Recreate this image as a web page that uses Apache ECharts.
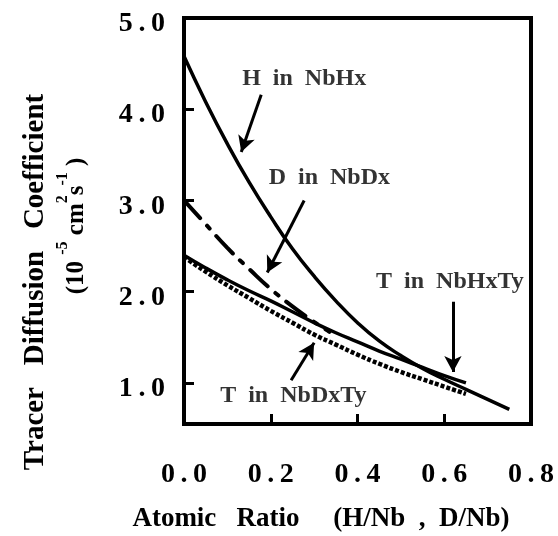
<!DOCTYPE html>
<html>
<head>
<meta charset="utf-8">
<script src="https://cdn.jsdelivr.net/npm/echarts@6/dist/echarts.min.js"></script>
<style>
  html, body { margin: 0; padding: 0; background: #fff; }
  #chart { width: 558px; height: 536px; }
</style>
</head>
<body>
<div id="chart"></div>
<script>
// H in NbHx (solid)
var hX = [0, 0.05, 0.1, 0.15, 0.2, 0.25, 0.3, 0.35, 0.4, 0.45, 0.5, 0.55, 0.6, 0.65, 0.7, 0.75];
var hY = [4.58, 4.08, 3.62, 3.2, 2.82, 2.47, 2.17, 1.9, 1.66, 1.46, 1.3, 1.16, 1.04, 0.93, 0.82, 0.71];
// D in NbDx (dash-dot)
var dX = [0, 0.05, 0.1, 0.15, 0.2, 0.25, 0.3, 0.335];
var dY = [3.0, 2.74, 2.48, 2.25, 2.03, 1.84, 1.67, 1.56];
// T in NbHxTy (solid)
var thX = [0, 0.05, 0.1, 0.15, 0.2, 0.25, 0.3, 0.35, 0.4, 0.45, 0.5, 0.55, 0.6, 0.65];
var thY = [2.4, 2.26, 2.13, 2.01, 1.9, 1.78, 1.66, 1.55, 1.45, 1.35, 1.26, 1.17, 1.08, 1.0];
// T in NbDxTy (dotted)
var tdX = [0, 0.05, 0.1, 0.15, 0.2, 0.25, 0.3, 0.35, 0.4, 0.45, 0.5, 0.55, 0.6, 0.65];
var tdY = [2.38, 2.22, 2.07, 1.93, 1.79, 1.66, 1.53, 1.42, 1.31, 1.21, 1.12, 1.04, 0.96, 0.88];

var xTicks = [0.2, 0.4, 0.6];
var xLabels = [0, 0.2, 0.4, 0.6, 0.8];
var yTicks = [1, 2, 3, 4];
var yLabels = [1, 2, 3, 4, 5];

// curve labels and arrows, in data units
var noteText = ["H  in  NbHx", "D  in  NbDx", "T  in  NbHxTy", "T  in  NbDxTy"];
var noteX = [0.277, 0.335, 0.613, 0.252];
var noteY = [4.33, 3.25, 2.11, 0.86];
var arrowFrom = [[0.178, 4.16], [0.277, 3.0], [0.62, 1.89], [0.247, 1.03]];
var arrowTo = [[0.132, 3.53], [0.192, 2.21], [0.62, 1.12], [0.30, 1.44]];

function pairs(xs, ys) {
  return xs.map(function (x, i) { return [x, ys[i]]; });
}

function spaced(v) {
  return v.toFixed(1).split("").join("\u2009");
}

var serif = '"Liberation Serif", "Times New Roman", serif';
var chart = echarts.init(document.getElementById("chart"));

var option = {
  animation: false,
  grid: {
    left: 184,
    right: 27,
    top: 18,
    bottom: 112,
    show: true,
    borderColor: "#000",
    borderWidth: 4
  },
  xAxis: {
    type: "value",
    min: 0,
    max: 0.8,
    axisLine: { show: false },
    splitLine: { show: false },
    axisTick: {
      show: true,
      inside: true,
      length: 10,
      customValues: xTicks,
      lineStyle: { color: "#000", width: 3 }
    },
    axisLabel: {
      customValues: xLabels,
      margin: 37,
      color: "#000",
      fontFamily: serif,
      fontWeight: "bold",
      fontSize: 28,
      formatter: spaced
    }
  },
  yAxis: {
    type: "value",
    min: 0.55,
    max: 5.0,
    axisLine: { show: false },
    splitLine: { show: false },
    axisTick: {
      show: true,
      inside: true,
      length: 10,
      customValues: yTicks,
      lineStyle: { color: "#000", width: 3 }
    },
    axisLabel: {
      customValues: yLabels,
      margin: 19,
      formatter: function (v) {
        return "{a|" + spaced(v) + "}";
      },
      rich: {
        a: {
          color: "#000",
          fontFamily: serif,
          fontWeight: "bold",
          fontSize: 28,
          padding: [12, 0, 0, 0]
        }
      }
    }
  },
  graphic: [
    {
      type: "text",
      x: 321,
      y: 519,
      style: {
        text: "Atomic   Ratio     (H/Nb  ,  D/Nb)",
        textAlign: "center",
        textVerticalAlign: "middle",
        font: "bold 27px " + serif,
        fill: "#000"
      }
    },
    {
      type: "text",
      x: 36,
      y: 282,
      rotation: Math.PI / 2,
      style: {
        text: "Tracer   Diffusion   Coefficient",
        textAlign: "center",
        textVerticalAlign: "middle",
        font: "bold 29px " + serif,
        fill: "#000"
      }
    },
    {
      type: "text",
      x: 72,
      y: 226,
      rotation: Math.PI / 2,
      style: {
        text: "{b|(10 }{s|-5}{b| cm}{s|2}{b|s}{s|-1}{b| )}",
        textAlign: "center",
        textVerticalAlign: "middle",
        fill: "#000",
        rich: {
          b: { font: "bold 25px " + serif, lineHeight: 34, verticalAlign: "bottom" },
          s: { font: "bold 16px " + serif, lineHeight: 34, verticalAlign: "top" }
        }
      }
    }
  ],
  series: [
    {
      name: "H in NbHx",
      type: "line",
      smooth: true,
      showSymbol: false,
      data: pairs(hX, hY),
      lineStyle: { color: "#000", width: 3.5 }
    },
    {
      name: "D in NbDx",
      type: "line",
      smooth: true,
      showSymbol: false,
      data: pairs(dX, dY),
      lineStyle: { color: "#000", width: 4, type: [24, 10, 4, 10], cap: "round" }
    },
    {
      name: "T in NbHxTy",
      type: "line",
      smooth: true,
      showSymbol: false,
      data: pairs(thX, thY),
      lineStyle: { color: "#000", width: 3.5 }
    },
    {
      name: "T in NbDxTy",
      type: "line",
      smooth: true,
      showSymbol: false,
      data: pairs(tdX, tdY),
      lineStyle: { color: "#000", width: 4.5, type: [4, 2] }
    },
    {
      name: "notes",
      type: "scatter",
      symbolSize: 0,
      silent: true,
      data: noteText.map(function (t, i) {
        return { value: [noteX[i], noteY[i]], name: t };
      }),
      label: {
        show: true,
        position: "inside",
        formatter: "{b}",
        color: "#000",
        fontFamily: serif,
        fontWeight: "bold",
        fontSize: 24
      },
      markLine: {
        silent: true,
        symbol: ["none", "arrow"],
        symbolSize: [13, 16],
        label: { show: false },
        lineStyle: { color: "#000", width: 3, type: "solid" },
        data: arrowFrom.map(function (p, i) {
          return [{ coord: p }, { coord: arrowTo[i] }];
        })
      }
    }
  ]
};

chart.setOption(option);
</script>
</body>
</html>
